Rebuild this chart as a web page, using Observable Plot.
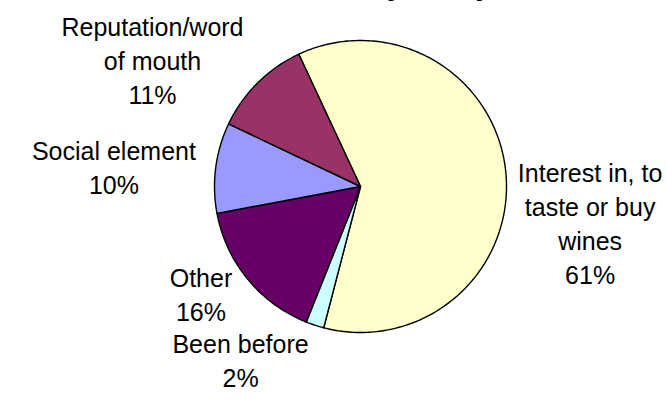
<!DOCTYPE html>
<html>
<head>
<meta charset="utf-8">
<script src="https://cdn.jsdelivr.net/npm/d3@7"></script>
<script src="https://cdn.jsdelivr.net/npm/@observablehq/plot@0.6"></script>
<style>
  html, body { margin: 0; padding: 0; background: #fff; overflow: hidden; }
  #wrap { position: relative; width: 667px; height: 402px; overflow: hidden; }
  #title { position: absolute; right: 175px; top: -30px; font: bold 30px "Liberation Sans", Arial, sans-serif; line-height: 30px; white-space: nowrap; color: #000; }
  #chart { position: absolute; left: 0; top: 0; }
</style>
</head>
<body>
<div id="wrap">
  <div id="chart"></div>
  <div id="title">Reasons for visit by study</div>
</div>
<script>
// ---- data ----
const categories = ["Interest in, to\ntaste or buy\nwines", "Been before", "Other", "Social element", "Reputation/word\nof mouth"];
const values = [61, 2, 16, 10, 11];
const percentLabels = ["61%", "2%", "16%", "10%", "11%"];

// ---- styles / layout ----
const colors = ["#FFFFCC", "#CCFFFF", "#660066", "#9999FF", "#993366"];
const W = 667, H = 402;
const cxPx = 360, cyPx = 186, R = 146;   // pie centre and radius (px)
const startDeg = -25;
const fontSize = 25, linePx = 34, capPx = 18, gap = 12, sideGap = 20;
const fontFamily = "Liberation Sans, Arial, sans-serif";

const a0 = startDeg * Math.PI / 180;
const arcs = d3.pie().sort(null).value(d => d).startAngle(a0).endAngle(a0 + 2 * Math.PI)(values);

// slice polygons in unit-radius coordinates (y up)
const slicePts = arcs.map((a, i) => {
  const pts = [{x: 0, y: 0}];
  const n = Math.max(2, Math.ceil((a.endAngle - a.startAngle) / (Math.PI / 180)));
  for (let k = 0; k <= n; k++) {
    const t = a.startAngle + (a.endAngle - a.startAngle) * k / n;
    pts.push({x: Math.sin(t), y: Math.cos(t)});
  }
  return pts;
});

// label placement derived from slice mid-angles
const ctx = document.createElement("canvas").getContext("2d");
ctx.font = `${fontSize}px ${fontFamily}`;
const labels = arcs.map((a, i) => {
  const text = categories[i] + "\n" + percentLabels[i];
  const lines = text.split("\n");
  const w = d3.max(lines, l => ctx.measureText(l).width);
  const h = (lines.length - 1) * linePx + capPx;
  const mid = (a.startAngle + a.endAngle) / 2;
  const ux = Math.sin(mid), uy = -Math.cos(mid);
  let cx, cy;
  if (ux >= 0) {
    cx = (R + gap) * ux + w / 2;
    cy = (R + gap) * uy + h / 2 - 10;
  } else {
    cx = (R + sideGap) * ux - w / 2;
    cy = (R + gap) * uy + Math.pow(uy, 3) * h / 2;
  }
  return {x: cx / R, y: -cy / R, text};
});

const xDomain = [(0 - cxPx) / R, (W - cxPx) / R];
const yDomain = [(cyPx - H) / R, cyPx / R];

const plot = Plot.plot({
  width: W,
  height: H,
  margin: 0,
  x: {domain: xDomain, axis: null},
  y: {domain: yDomain, axis: null},
  style: {background: "white", fontFamily},
  marks: [
    ...slicePts.map((pts, i) => Plot.line(pts, {
      x: "x", y: "y", fill: colors[i], stroke: "#000", strokeWidth: 1.4,
      curve: "linear-closed", strokeLinejoin: "round"
    })),
    Plot.text(labels, {
      x: "x", y: "y", text: "text",
      fontSize, lineHeight: linePx / fontSize,
      textAnchor: "middle", lineAnchor: "middle", fill: "#000"
    })
  ]
});
document.getElementById("chart").appendChild(plot);
</script>
</body>
</html>
